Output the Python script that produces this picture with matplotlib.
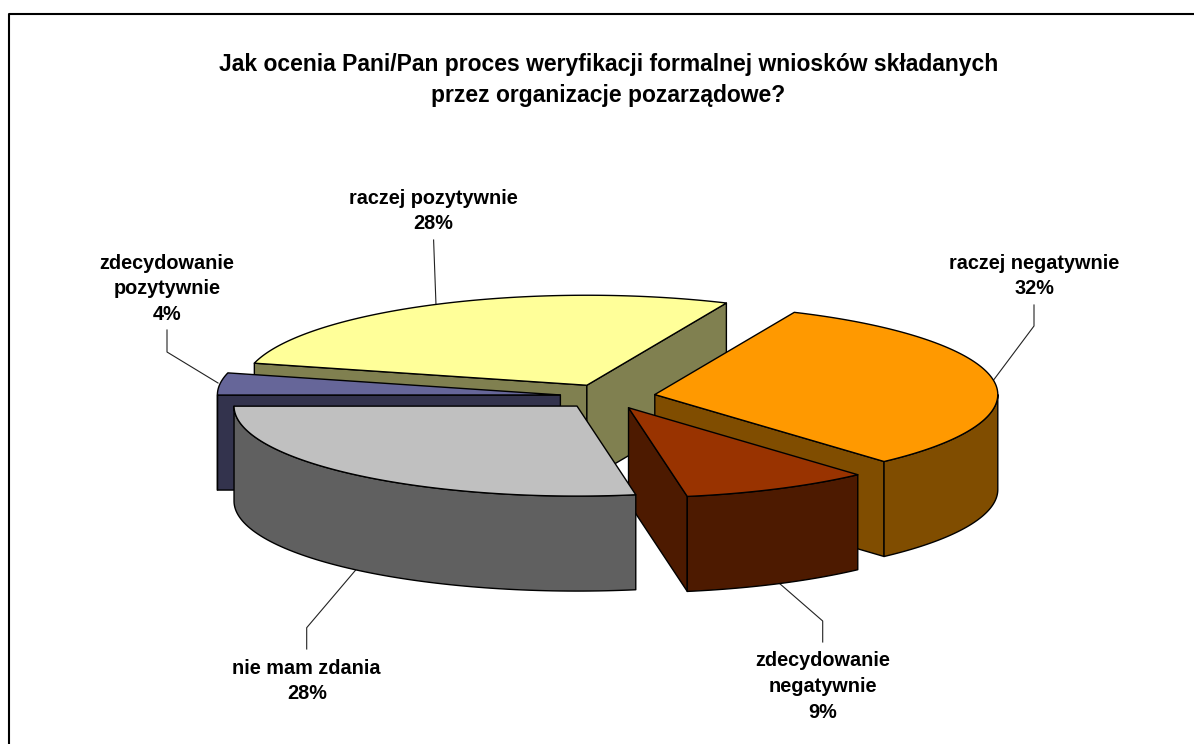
import matplotlib
matplotlib.use('Agg')
import matplotlib.pyplot as plt
from matplotlib.patches import Polygon
import numpy as np

plt.rcParams['font.family'] = ['Liberation Sans', 'DejaVu Sans']

title = 'Jak ocenia Pani/Pan proces weryfikacji formalnej wniosków składanych\nprzez organizacje pozarządowe?'

# slices clockwise, first one starts at start_angle
labels = ['raczej negatywnie', 'zdecydowanie\nnegatywnie', 'nie mam zdania',
          'zdecydowanie\npozytywnie', 'raczej pozytywnie']
values = [32, 9, 28, 4, 28]
top_colors = ['#FF9900', '#993300', '#C0C0C0', '#666699', '#FFFF99']
side_colors = ['#804D00', '#4D1A00', '#606060', '#33334D', '#808050']

start_angle = 24
draw_order = [4, 3, 0, 1, 2]

# pie geometry, pixels
cx, cy = 607.7, 396.5
rx, ry = 343, 90
depth = 95
explode = 0.139

# label centre and leader line (from label to pie)
label_pos = [(1034, 276), (822.7, 686.5), (306.7, 681), (167, 289), (433.5, 211)]
leaders = [[(1034, 305), (1034, 326), (993.6, 380)],
           [(822.7, 642), (822.7, 621), (779, 583)],
           [(306.7, 649), (306.7, 627.7), (355.7, 570)],
           [(167, 330), (167, 352), (218, 383)],
           [(433.6, 240), (436, 305)]]

fig = plt.figure(figsize=(11.94, 7.44), dpi=100)
ax = fig.add_axes([0, 0, 1, 1])
ax.set_xlim(0, 1194)
ax.set_ylim(744, 0)
ax.axis('off')

# chart frame, right and bottom sides are cut off in the source
ax.plot([9, 9, 1194], [744, 13.5, 13.5], color='black', lw=1.5)

ax.text(608.5, 80, title, ha='center', va='center', fontsize=16.5, fontweight='bold',
        linespacing=1.4, color='black')

shares = np.array(values) / sum(values) * 360
starts = start_angle + np.concatenate([[0], np.cumsum(shares)[:-1]])
ends = starts + shares


def rim(t):
    t = np.radians(t)
    return rx * np.sin(t), -ry * np.cos(t)


def face(pts, color, z):
    ax.add_patch(Polygon(pts, closed=True, facecolor=color, edgecolor='black',
                         lw=1.0, joinstyle='round', zorder=z))


z = 2
for i in draw_order:
    a, b = starts[i], ends[i]
    mid = np.radians((a + b) / 2)
    x0 = cx + explode * rx * np.sin(mid)
    y0 = cy - explode * ry * np.cos(mid)

    # cut faces, only the ones turned to the viewer
    for t, normal in ((a, a - 90), (b, b + 90)):
        if np.cos(np.radians(normal)) < 0:
            x, y = rim(t)
            face([(x0, y0), (x0 + x, y0 + y), (x0 + x, y0 + y + depth), (x0, y0 + depth)],
                 side_colors[i], z)
            z += 1

    # outer wall, front half of the ellipse only
    lo, hi = max(a, 90), min(b, 270)
    if lo < hi:
        x, y = rim(np.linspace(lo, hi, 80))
        pts = np.r_[np.c_[x0 + x, y0 + y], np.c_[x0 + x, y0 + y + depth][::-1]]
        face(pts, side_colors[i], z)
        z += 1

    # top
    x, y = rim(np.linspace(a, b, 120))
    pts = np.r_[[(x0, y0)], np.c_[x0 + x, y0 + y]]
    face(pts, top_colors[i], z)
    z += 1

for i in range(len(values)):
    ax.plot(*zip(*leaders[i]), color='#222222', lw=0.8, zorder=1)
    ax.text(label_pos[i][0], label_pos[i][1], f'{labels[i]}\n{values[i]}%', ha='center',
            va='center', fontsize=14.3, fontweight='bold', linespacing=1.46, color='black')

fig.savefig('out.png', dpi=100)
